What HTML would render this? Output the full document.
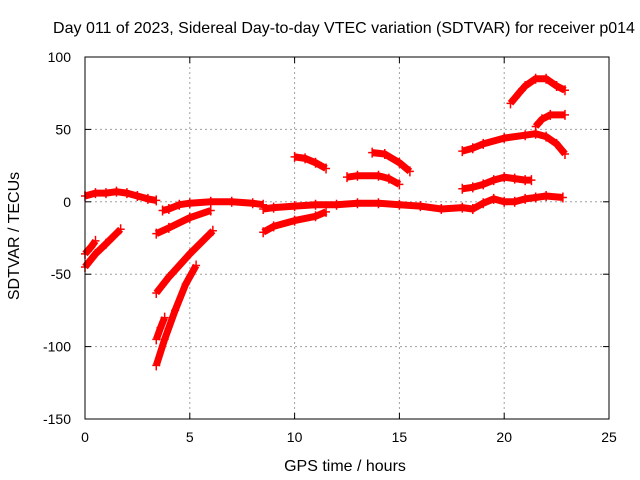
<!DOCTYPE html>
<html><head><meta charset="utf-8">
<style>
body{margin:0;background:#fff;}
svg{display:block;font-family:"Liberation Sans",sans-serif;}
</style></head>
<body>
<svg id="chart" width="640" height="480" viewBox="0 0 640 480" xmlns="http://www.w3.org/2000/svg">
<rect x="0" y="0" width="640" height="480" fill="#fff"/>
<text x="344" y="33" font-size="16" text-anchor="middle" fill="#000">Day 011 of 2023, Sidereal Day-to-day VTEC variation (SDTVAR) for receiver p014</text>
<text x="345" y="471" font-size="16" text-anchor="middle" fill="#000">GPS time / hours</text>
<text x="0" y="0" transform="translate(19,236) rotate(-90)" font-size="16" text-anchor="middle" fill="#000">SDTVAR / TECUs</text>
<g id="grid"></g>
<g id="ticks"></g>
<g id="series"></g>
<rect x="85" y="57" width="524" height="362" fill="none" stroke="#000" stroke-width="1"/>
</svg>
<script>
const xTicks=[0,5,10,15,20,25];
const yTicks=[100,50,0,-50,-100,-150];
const seg1=[[0,4],[0.5,6],[1,6],[1.5,7],[2,6],[2.5,4],[3,2],[3.4,1]];
const seg2=[[3.7,-6],[4,-5],[4.5,-2],[5,-1],[6,0],[7,0],[8,-1],[8.5,-2]];
const seg3=[[8.5,-5],[9,-4],[10,-3],[11,-2],[12,-2],[13,-1],[14,-1],[15,-2],[16,-3],[17,-5],[18,-4],[18.5,-5],[19,-1],[19.5,2],[20,0],[20.5,0],[21,2],[21.5,3],[22,4],[22.8,3]];
const seg4=[[0,-45],[0.5,-36],[1,-29],[1.7,-19]];
const seg5=[[0,-36],[0.3,-31],[0.5,-27]];
const seg6=[[3.4,-22],[4,-18],[5,-11],[6,-6]];
const seg7=[[3.4,-63],[4,-52],[5,-36],[6.1,-20]];
const seg8=[[3.4,-113],[3.8,-95],[4.3,-75],[4.8,-57],[5.3,-44]];
const seg9=[[3.4,-95],[3.6,-87],[3.8,-80]];
const seg10=[[8.5,-21],[9,-17],[10,-13],[11,-10],[11.5,-7]];
const seg11=[[10,31],[10.5,30],[11,27],[11.5,23]];
const seg12=[[12.5,17],[13,18],[14,18],[14.5,16],[15,12]];
const seg13=[[13.7,34],[14.3,33],[15,27],[15.5,21]];
const seg14=[[18,9],[18.5,10],[19,12],[19.5,15],[20,17],[20.5,16],[21,15],[21.3,15]];
const seg15=[[18,35],[18.5,37],[19,40],[20,44],[21,46],[21.5,47],[22,45],[22.5,40],[22.9,33]];
const seg16=[[20.3,68],[20.7,75],[21,80],[21.5,85],[22,85],[22.5,80],[22.9,77]];
const seg17=[[21.5,52],[21.8,57],[22.2,60],[22.9,60]];
const allSegs=[seg1,seg2,seg3,seg4,seg5,seg6,seg7,seg8,seg9,seg10,seg11,seg12,seg13,seg14,seg15,seg16,seg17];

const NS="http://www.w3.org/2000/svg";
const X0=85,X1=609,Y0=419,Y1=57;
function xs(v){return X0+(v-0)/(25-0)*(X1-X0);}
function ys(v){return Y0-(v-(-150))/(100-(-150))*(Y0-Y1);}
function mk(tag,attrs,parent){const e=document.createElementNS(NS,tag);for(const k in attrs)e.setAttribute(k,attrs[k]);parent.appendChild(e);return e;}
const grid=document.getElementById('grid'),ticks=document.getElementById('ticks'),series=document.getElementById('series');
xTicks.forEach((t,i)=>{
  const x=xs(t);
  if(i>0&&i<xTicks.length-1){const g=mk('line',{x1:x,x2:x,y1:Y1,y2:Y0,stroke:'#a0a0a0','stroke-dasharray':'2,3'},grid);
  
  }
  mk('line',{x1:x,x2:x,y1:Y0,y2:Y0-6,stroke:'#000'},ticks);
  mk('line',{x1:x,x2:x,y1:Y1,y2:Y1+6,stroke:'#000'},ticks);
  const tx=mk('text',{x:x,y:Y0+23,'font-size':14,'text-anchor':'middle',fill:'#000'},ticks);
  tx.textContent=t;
  
  
});
yTicks.forEach((t,i)=>{
  const y=ys(t);
  if(i>0&&i<yTicks.length-1){const g=mk('line',{x1:X0,x2:X1,y1:y,y2:y,stroke:'#a0a0a0','stroke-dasharray':'2,3'},grid);
  
  }
  mk('line',{x1:X0,x2:X0+6,y1:y,y2:y,stroke:'#000'},ticks);
  mk('line',{x1:X1,x2:X1-6,y1:y,y2:y,stroke:'#000'},ticks);
  const tx=mk('text',{x:X0-14,y:y+5,'font-size':14,'text-anchor':'end',fill:'#000'},ticks);
  tx.textContent=t;
  
  
});
allSegs.forEach((s,i)=>{
  const g=mk('g',{},series);
  
  
  const pts=s.map(p=>xs(p[0]).toFixed(1)+','+ys(p[1]).toFixed(1)).join(' ');
  mk('polyline',{points:pts,fill:'none',stroke:'#ff0000','stroke-width':7,'stroke-linejoin':'round','stroke-linecap':'butt'},g);
  s.forEach(p=>{
    const x=xs(p[0]),y=ys(p[1]);
    mk('path',{d:`M${x-4},${y}H${x+4}M${x},${y-5}V${y+5}`,stroke:'#ff0000','stroke-width':1.5},g);
  });
});
</script>
</body></html>
